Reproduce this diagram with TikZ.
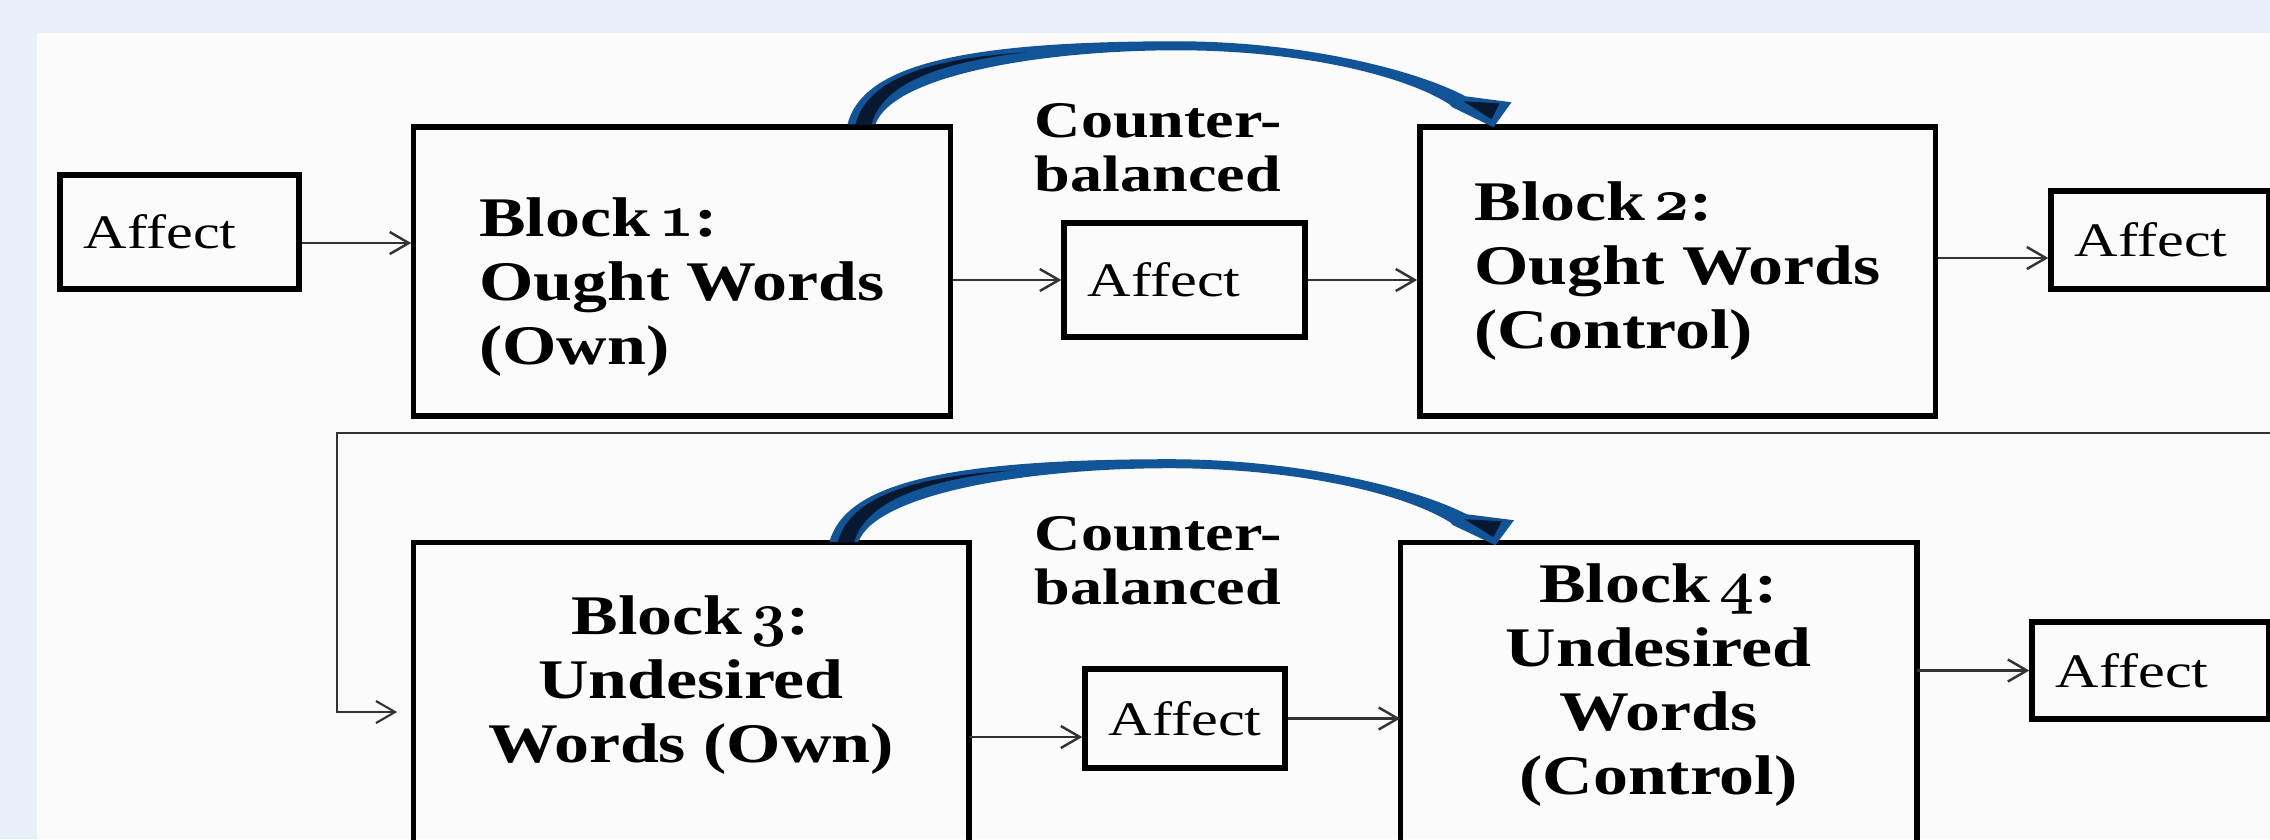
\documentclass[tikz,border=0pt]{standalone}
\usepackage{fontspec}
\setmainfont{Liberation Serif}[FakeStretch=1.25]
\usepackage{tikz}
\usetikzlibrary{
        positioning,
        arrows.meta
    }
\definecolor{bgblue}{RGB}{233,239,247}
\definecolor{panel}{RGB}{251,251,251}
\definecolor{arcblue}{RGB}{18,84,152}
\definecolor{arccore}{RGB}{8,24,48}
\newcommand\osn[1]{{\usefont{OML}{cmm}{b}{it}#1}}

\begin{document}
\begin{tikzpicture}
[x=0.01cm, y=-0.01cm,
box/.style={draw=black, line width=1.5pt},
affect/.style={box, align=left, inner xsep=0.24cm, font=\fontsize{13.7pt}{16pt}\selectfont},
block/.style={box, align=left, font=\fontsize{15.9pt}{18.2pt}\selectfont\bfseries},
lowblock/.style={align=center, minimum width=5.54cm, minimum height=2.84cm, font=\fontsize{15.9pt}{18.2pt}\selectfont\bfseries},
note/.style={align=left, inner sep=0pt, anchor=north west, font=\fontsize{14.6pt}{15.4pt}\selectfont\bfseries},
arrow/.style={line width=0.7pt, black!80, -{Straight Barb[length=1.9mm, width=2.2mm]}},]
    \useasboundingbox (0,0) rectangle (2270,839);
    \clip (0,0) rectangle (2270,839);
    \fill[bgblue] (0,0) rectangle (2270,839);
    \fill[panel] (37,33) rectangle (2270,839);

    \node (aff1) [affect, text width=1.91cm, minimum height=1.14cm] at (179.5,232) {Affect};
    \node (b1) [block, minimum width=5.36cm, minimum height=2.89cm] at (682,271.5) {\rule{0pt}{20pt}Block\,\osn{1}:\\Ought Words\\(Own)};
    \node (aff2) [affect, text width=1.93cm, minimum height=1.14cm] at (1184.5,280) {Affect};
    \node (b2) [block, minimum width=5.15cm, minimum height=2.89cm] at (1677.5,271.5) {Block\,\osn{2}:\\Ought Words\\(Control)};
    \node (aff3) [affect, text width=1.70cm, minimum height=0.98cm] at (2160,240) {Affect};
    \node (b3) [lowblock] at (691,685) {Block\,\osn{3}:\\Undesired\\Words (Own)};
    \node (aff4) [affect, text width=1.52cm, minimum height=0.99cm] at (1185,718.5) {Affect};
    \node (b4) [lowblock, minimum width=5.15cm] at (1658.5,685) {Block\,\osn{4}:\\Undesired\\Words\\(Control)};
    \node (aff5) [affect, text width=1.89cm, minimum height=0.97cm] at (2150.5,670.5) {Affect};
    \node (cb1) [note] at (1034,102.5) {Counter-\\balanced};
    \node (cb2) [note] at (1034,515.5) {Counter-\\balanced};
    \coordinate (back) at (2280,433);

    \draw[box] ([yshift=-1cm]b3.south west) |- (b3.north east) -- ([yshift=-1cm]b3.south east);
    \draw[box] ([yshift=-1cm]b4.south west) |- (b4.north east) -- ([yshift=-1cm]b4.south east);

    \draw[arrow] ([yshift=-1.1mm]aff1.east) -- ([yshift=-1.1mm]aff1.east -| b1.west);
    \draw[arrow] (b1.east |- aff2.west) -- (aff2.west);
    \draw[arrow] (aff2.east) -- (aff2.east -| b2.west);
    \draw[arrow] ([yshift=-1.8mm]aff3.west -| b2.east) -- ([yshift=-1.8mm]aff3.west);
    \draw[arrow, line width=0.6pt] (back) -| ([xshift=-7.6mm, yshift=-2.7mm]b3.west) -- ([xshift=-1.6mm, yshift=-2.7mm]b3.west);
    \draw[arrow] ([yshift=-1.85mm]aff4.west -| b3.east) -- ([yshift=-1.85mm]aff4.west);
    \draw[arrow] (aff4.east) -- (aff4.east -| b4.west);
    \draw[arrow] (b4.east |- aff5.west) -- (aff5.west);

    \foreach \from/\dx/\sc in {b1/4.36cm/1, b3/4.16cm/1.031} {
    \begin{scope}[shift={([xshift=\dx]\from.north west)}, xscale=\sc]
        \fill[arcblue] (0,0) .. controls (15,-58) and (110,-83) .. (330,-83) .. controls (450,-83) and (565,-56) .. (618,-28)
            -- (664,-22) -- (646,3) -- (605,-17) -- (602,-20)
            .. controls (555,-50) and (450,-74) .. (330,-74) .. controls (190,-74) and (45,-48) .. (28,0) -- cycle;
        \fill[arccore] (8,0) .. controls (20,-45) and (80,-66) .. (180,-72) .. controls (90,-62) and (35,-40) .. (24,0) -- cycle;
        \fill[arccore] (616,-23) -- (652,-21) -- (644,-5) -- cycle;
    \end{scope}
    }
\end{tikzpicture}
\end{document}
